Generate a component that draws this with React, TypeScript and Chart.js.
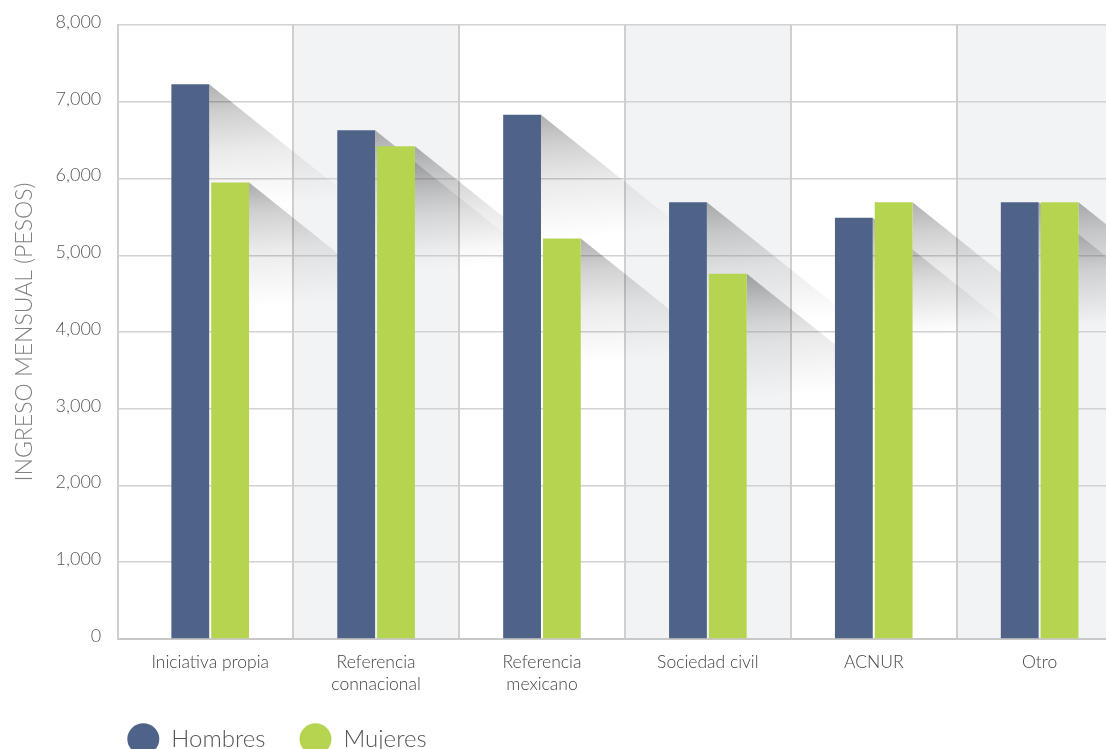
import React, { useEffect, useRef } from 'react';
import { Chart, registerables } from 'chart.js';

Chart.register(...registerables);

// ---- data ----
const categories: (string | string[])[] = [
  'Iniciativa propia',
  ['Referencia', 'connacional'],
  ['Referencia', 'mexicano'],
  'Sociedad civil',
  'ACNUR',
  'Otro',
];
const hombres = [7230, 6630, 6830, 5690, 5490, 5690];
const mujeres = [5950, 6420, 5220, 4760, 5690, 5690];
const seriesNames = ['Hombres', 'Mujeres'];
const yTickValues = [0, 1000, 2000, 3000, 4000, 5000, 6000, 7000, 8000];
const yTitle = 'INGRESO MENSUAL (PESOS)';

const BLUE = '#4f6389';
const GREEN = '#b5d44f';
const BAND = '#f2f3f5';
const LINE = '#d2d2d2';
const FONT = 'Lato, "Open Sans", sans-serif';
const LEGEND_PAD = 34;

function drawShadow(ctx: CanvasRenderingContext2D, r: number, t: number, b: number) {
  const L = 150;
  const k = 0.8;
  const H = Math.max(1, Math.min(b - t, 125));
  ctx.beginPath();
  ctx.moveTo(r, t);
  ctx.lineTo(r + L, t + k * L);
  ctx.lineTo(r + L, t + H);
  ctx.lineTo(r, t + H);
  ctx.closePath();
  const g = ctx.createLinearGradient(r, t, r + 10, t + 125);
  g.addColorStop(0, 'rgba(0,0,0,0.31)');
  g.addColorStop(0.25, 'rgba(0,0,0,0.18)');
  g.addColorStop(0.55, 'rgba(0,0,0,0.08)');
  g.addColorStop(1, 'rgba(0,0,0,0)');
  ctx.fillStyle = g;
  ctx.fill();
}

const decorPlugin = {
  id: 'decor',
  afterLayout(chart: any) {
    const lg = chart.legend;
    if (lg) {
      const a = chart.chartArea;
      const h = lg.height;
      lg.left = a.left + 9 - LEGEND_PAD;
      lg.top = a.bottom + 100 - LEGEND_PAD - 12;
      lg.bottom = lg.top + h;
    }
  },
  beforeDraw(chart: any) {
    const { ctx, chartArea: a, scales } = chart;
    const x = scales.x;
    ctx.save();
    ctx.fillStyle = BAND;
    categories.forEach((_, i) => {
      if (i % 2 === 1) {
        const l = Math.max(x.getPixelForValue(i - 0.5), a.left);
        const r = Math.min(x.getPixelForValue(i + 0.5), a.right);
        ctx.fillRect(l, a.top, r - l, a.bottom - a.top);
      }
    });
    ctx.restore();
  },
  beforeDatasetsDraw(chart: any) {
    const { ctx, chartArea: a, scales } = chart;
    const x = scales.x;
    ctx.save();
    ctx.strokeStyle = '#cfcfcf';
    ctx.lineWidth = 2;
    categories.forEach((_, i) => {
      if (i < categories.length - 1) {
        const px = Math.round(x.getPixelForValue(i + 0.5));
        if (px < a.right) {
          ctx.beginPath();
          ctx.moveTo(px, a.top);
          ctx.lineTo(px, a.bottom);
          ctx.stroke();
        }
      }
    });
    ctx.beginPath();
    ctx.rect(a.left, a.top, a.right - a.left, a.bottom - a.top);
    ctx.clip();
    chart.data.datasets.forEach((_: any, di: number) => {
      const meta = chart.getDatasetMeta(di);
      meta.data.forEach((bar: any) => {
        const r = bar.x + bar.width / 2;
        drawShadow(ctx, r, bar.y, bar.base);
      });
    });
    ctx.restore();
  },
};

export default function App() {
  const ref = useRef<HTMLCanvasElement>(null);

  useEffect(() => {
    if (!ref.current) return;
    const chart = new Chart(ref.current, {
      type: 'bar',
      data: {
        datasets: [
          {
            label: seriesNames[0],
            data: hombres.map((v, i) => ({ x: i, y: v })),
            backgroundColor: BLUE,
            borderWidth: 0,
          },
          {
            label: seriesNames[1],
            data: mujeres.map((v, i) => ({ x: i, y: v })),
            backgroundColor: GREEN,
            borderWidth: 0,
          },
        ],
      },
      options: {
        animation: false,
        responsive: true,
        maintainAspectRatio: false,
        barPercentage: 0.95,
        categoryPercentage: 0.48,
        layout: { padding: { top: 20, left: 0, right: 0, bottom: 0 } },
        plugins: {
          tooltip: { enabled: false },
          legend: {
            position: 'bottom',
            align: 'start',
            labels: {
              usePointStyle: true,
              pointStyle: 'circle',
              pointStyleWidth: 32,
              boxHeight: 22,
              padding: LEGEND_PAD,
              color: '#555',
              font: { family: FONT, size: 24, weight: '300' },
            },
          },
        },
        scales: {
          x: {
            type: 'linear',
            min: -0.554,
            max: 5.4,
            offset: false,
            grid: { display: false, drawTicks: false },
            border: { display: true, color: '#c8c8c8', width: 2 },
            afterBuildTicks: (scale: any) => {
              scale.ticks = categories.map((_, i) => ({ value: i }));
            },
            ticks: {
              autoSkip: false,
              maxRotation: 0,
              minRotation: 0,
              padding: 12,
              color: '#444',
              font: { family: FONT, size: 17.5, lineHeight: 1.26, weight: '300' },
              callback: (v: any) => categories[Number(v)] ?? '',
            },
          },
          y: {
            min: 0,
            max: 8000,
            afterBuildTicks: (scale: any) => {
              scale.ticks = yTickValues.map((v) => ({ value: v }));
            },
            grid: { color: LINE, lineWidth: 1.5, drawTicks: false },
            border: { display: true, color: '#cfcfcf', width: 2 },
            ticks: {
              padding: 17,
              labelOffset: -3,
              color: '#555',
              font: { family: FONT, size: 18, weight: '300', lineHeight: 0.9 },
              callback: (v: any) => Number(v).toLocaleString('en-US'),
            },
            title: {
              display: true,
              text: yTitle,
              color: '#808080',
              font: { family: FONT, size: 23, weight: '300' },
              padding: { top: 11, bottom: 0 },
            },
          },
        },
      },
      plugins: [decorPlugin],
    } as any);
    return () => chart.destroy();
  }, []);

  return (
    <div style={{ position: 'fixed', left: 0, top: 0, width: 1106, height: 749, overflow: 'hidden', background: '#fff' }}>
      <div style={{ position: 'relative', width: 1106, height: 775 }}>
        <canvas ref={ref} />
      </div>
    </div>
  );
}
